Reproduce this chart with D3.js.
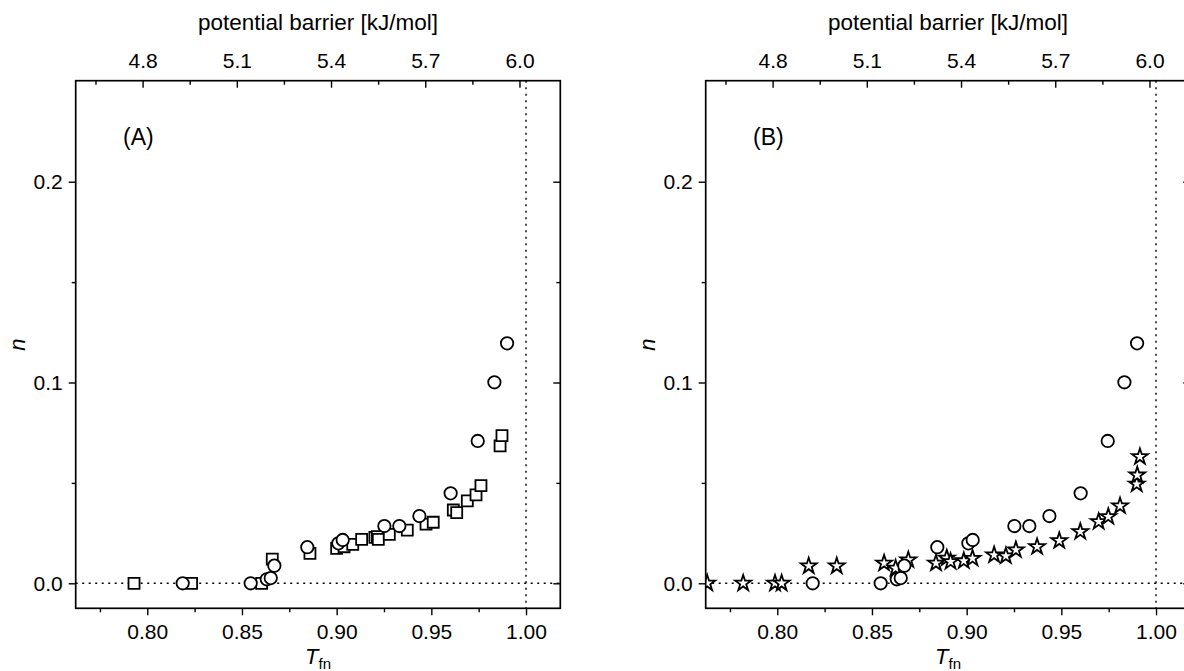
<!DOCTYPE html>
<html>
<head>
<meta charset="utf-8">
<script src="https://cdn.jsdelivr.net/npm/d3@7"></script>
<style>
  body { margin: 0; background: #fff; }
  svg text { font-family: "Liberation Sans", Arial, sans-serif; fill: #000; }
</style>
</head>
<body>
<script>
// ========== Values ==========
// Circles, drawn in both panels. [T_fn, n]
var circleData = [
  [0.8187, 0], [0.8546, 0], [0.8631, 0.0020], [0.8652, 0.0026], [0.8671, 0.0088],
  [0.8845, 0.0180], [0.9009, 0.0199], [0.9032, 0.0216], [0.9252, 0.0285],
  [0.9331, 0.0285], [0.9437, 0.0335], [0.9602, 0.0448], [0.9745, 0.0709],
  [0.9833, 0.1001], [0.9900, 0.1195]
];
// Squares, panel (A).
var squareData = [
  [0.7930, 0], [0.8234, 0], [0.8604, 0], [0.8660, 0.0120], [0.8859, 0.0149],
  [0.9000, 0.0174], [0.9039, 0.0182], [0.9085, 0.0194], [0.9132, 0.0219],
  [0.9202, 0.0229], [0.9215, 0.0232], [0.9220, 0.0219], [0.9278, 0.0244],
  [0.9373, 0.0265], [0.9472, 0.0295], [0.9510, 0.0304], [0.9616, 0.0365],
  [0.9634, 0.0352], [0.9690, 0.0410], [0.9736, 0.0440], [0.9762, 0.0486],
  [0.9863, 0.0684], [0.9873, 0.0735]
];
// Stars, panel (B).
var starData = [
  [0.7630, 0], [0.7820, 0], [0.7988, 0], [0.8023, 0], [0.8166, 0.0086],
  [0.8314, 0.0086], [0.8564, 0.0100], [0.8625, 0.0075], [0.8692, 0.0116],
  [0.8838, 0.0100], [0.8895, 0.0125], [0.8915, 0.0108], [0.8985, 0.0112],
  [0.9031, 0.0124], [0.9145, 0.0141], [0.9207, 0.0136], [0.9260, 0.0166],
  [0.9372, 0.0182], [0.9489, 0.0212], [0.9600, 0.0257], [0.9697, 0.0307],
  [0.9748, 0.0332], [0.9810, 0.0385], [0.9898, 0.0494], [0.9901, 0.0539],
  [0.9915, 0.0630]
];
var xTicks = [0.80, 0.85, 0.90, 0.95, 1.00];
var xMinorTicks = [0.775, 0.825, 0.875, 0.925, 0.975];
var yTicks = [0.0, 0.1, 0.2];
var yMinorTicks = [0.05, 0.15];
var barrierTicks = [4.8, 5.1, 5.4, 5.7, 6.0];
var barrierMinorTicks = [4.65, 4.95, 5.25, 5.55, 5.85];
// =================================================

var width = 1184, height = 671;
var plotW = 484.6, plotH = 527.6;
var fontSize = 21;

var svg = d3.select("body").append("svg")
  .attr("width", width)
  .attr("height", height);

// set the ranges (same for both panels)
var x = d3.scaleLinear().domain([0.7622, 1.0181]).range([0, plotW]);
var y = d3.scaleLinear().domain([-0.01245, 0.2503]).range([plotH, 0]);
var xTop = d3.scaleLinear().domain([4.587, 6.130]).range([0, plotW]);

function styleAxis(g)
{
  g.attr("font-size", null).attr("font-family", null);
  g.select(".domain").remove();
  g.selectAll("line").attr("stroke-width", 1.4);
  g.selectAll("text").style("font-size", fontSize + "px");
}

function drawPanel(left, top, label, id, others, otherShape, otherSize)
{
  var g = svg.append("g")
    .attr("transform", "translate(" + left + "," + top + ")");

  g.append("clipPath").attr("id", "clip" + id)
    .append("rect").attr("width", plotW).attr("height", plotH);

  // bottom axis, outward ticks
  g.append("g").attr("transform", "translate(0," + plotH + ")")
    .call(d3.axisBottom(x).tickValues(xTicks).tickSize(7).tickPadding(8.8)
      .tickFormat(d3.format(".2f")))
    .call(styleAxis);
  g.append("g").attr("transform", "translate(0," + plotH + ")")
    .call(d3.axisBottom(x).tickValues(xMinorTicks).tickSize(4).tickFormat(""))
    .call(styleAxis);

  // top axis (potential barrier), inward ticks
  g.append("g")
    .call(d3.axisTop(xTop).tickValues(barrierTicks).tickSize(-7).tickPadding(12.4)
      .tickFormat(d3.format(".1f")))
    .call(styleAxis);
  g.append("g")
    .call(d3.axisTop(xTop).tickValues(barrierMinorTicks).tickSize(-4).tickFormat(""))
    .call(styleAxis);

  // left axis, outward ticks
  g.append("g")
    .call(d3.axisLeft(y).tickValues(yTicks).tickSize(7).tickPadding(6)
      .tickFormat(d3.format(".1f")))
    .call(styleAxis);
  g.append("g")
    .call(d3.axisLeft(y).tickValues(yMinorTicks).tickSize(4).tickFormat(""))
    .call(styleAxis);

  // right axis, inward ticks
  g.append("g").attr("transform", "translate(" + plotW + ",0)")
    .call(d3.axisRight(y).tickValues(yTicks).tickSize(-7).tickFormat(""))
    .call(styleAxis);
  g.append("g").attr("transform", "translate(" + plotW + ",0)")
    .call(d3.axisRight(y).tickValues(yMinorTicks).tickSize(-4).tickFormat(""))
    .call(styleAxis);

  // dotted reference lines at n = 0 and T_fn = 1
  g.append("line")
    .attr("x1", 0).attr("x2", plotW)
    .attr("y1", y(0)).attr("y2", y(0))
    .attr("stroke", "#000").attr("stroke-width", 1.4)
    .attr("stroke-dasharray", "2,4.5");
  g.append("line")
    .attr("x1", x(1)).attr("x2", x(1))
    .attr("y1", 0).attr("y2", plotH)
    .attr("stroke", "#000").attr("stroke-width", 1.4)
    .attr("stroke-dasharray", "2,4.5");

  // markers: the other series first, circles on top
  var marks = g.append("g").attr("clip-path", "url(#clip" + id + ")");
  marks.selectAll(".other")
    .data(others)
    .enter().append("path")
    .attr("class", "other")
    .attr("d", d3.symbol().type(otherShape).size(otherSize))
    .attr("transform", function(d) { return "translate(" + x(d[0]) + "," + y(d[1]) + ")"; })
    .attr("fill", "#fff").attr("stroke", "#000").attr("stroke-width", 1.8);
  marks.selectAll(".circ")
    .data(circleData)
    .enter().append("path")
    .attr("class", "circ")
    .attr("d", d3.symbol().type(d3.symbolCircle).size(Math.PI * 6.2 * 6.2))
    .attr("transform", function(d) { return "translate(" + x(d[0]) + "," + y(d[1]) + ")"; })
    .attr("fill", "#fff").attr("stroke", "#000").attr("stroke-width", 1.8);

  // frame
  g.append("rect")
    .attr("width", plotW).attr("height", plotH)
    .attr("fill", "none").attr("stroke", "#000").attr("stroke-width", 1.7);

  // titles
  g.append("text")
    .attr("x", plotW / 2).attr("y", -50.7)
    .attr("text-anchor", "middle")
    .style("font-size", "22.5px")
    .text("potential barrier [kJ/mol]");

  g.append("text")
    .attr("x", 47.3).attr("y", 64.3)
    .style("font-size", "23px")
    .text(label);

  var xt = g.append("text")
    .attr("x", plotW / 2).attr("y", 583.3)
    .attr("text-anchor", "middle")
    .style("font-size", "22px");
  xt.append("tspan").style("font-style", "italic").text("T");
  xt.append("tspan").attr("dy", 5).style("font-size", "15px").text("fn");

  g.append("text")
    .attr("transform", "translate(-50.7," + (plotH / 2) + ") rotate(-90)")
    .attr("text-anchor", "middle")
    .style("font-size", "22px")
    .style("font-style", "italic")
    .text("n");
}

drawPanel(75.7, 80.7, "(A)", "A", squareData, d3.symbolSquare, 121);
drawPanel(705.7, 80.7, "(B)", "B", starData, d3.symbolStar, 78);
</script>
</body>
</html>
